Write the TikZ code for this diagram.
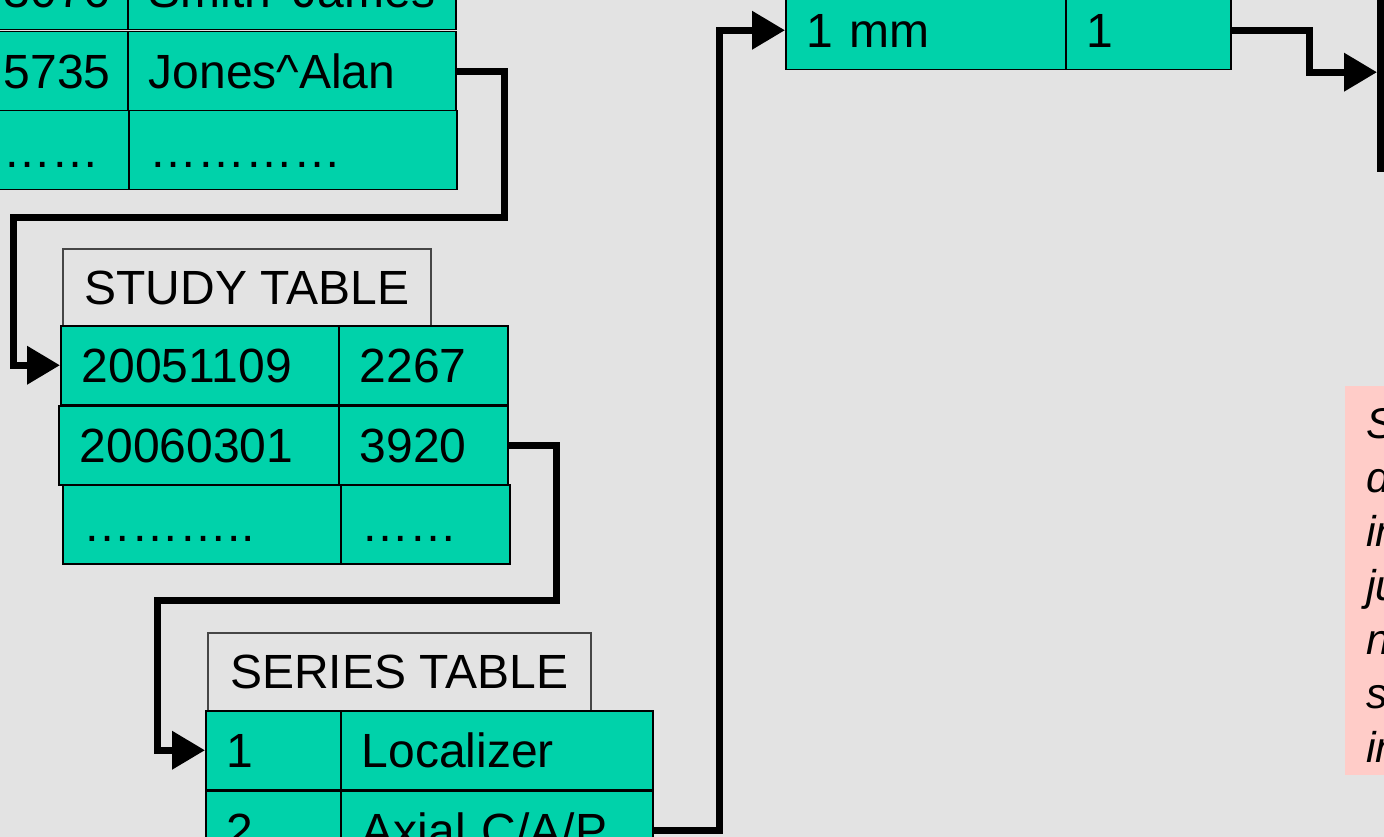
\documentclass[tikz,border=0pt]{standalone}
\usepackage{fontspec}
\setmainfont{Liberation Sans}
\usetikzlibrary{arrows.meta}
\definecolor{bgcol}{RGB}{227,227,227}
\definecolor{tealfill}{RGB}{0,210,170}
\definecolor{pinkfill}{RGB}{255,204,200}
\definecolor{titleborder}{RGB}{70,70,70}
\newcommand\cellfont{\fontsize{48}{58}\selectfont}
\newcommand\notefont{\fontsize{43}{54}\selectfont\itshape}
\tikzset{
  cell/.style={draw=black, line width=1.5pt, fill=tealfill, anchor=north west,
    inner xsep=21pt, inner ysep=0pt, text height=34pt, text depth=0pt,
    align=left, font=\cellfont, minimum height=79pt},
  tabtitle/.style={draw=titleborder, line width=1.5pt, anchor=north west,
    inner sep=0pt, text height=34pt, text depth=0pt, font=\cellfont},
  conn/.style={line width=7pt, -{Triangle[length=33pt,width=37pt]}},
}
\begin{document}
\begin{tikzpicture}[x=1pt,y=-1pt]
\useasboundingbox (0,0) rectangle (1384,837);
\clip (0,0) rectangle (1384,837);
\fill[bgcol] (0,0) rectangle (1384,837);

% patient table
\node[cell, text width=103pt] (P11) at (-18,-50) {3076};
\node[cell, text width=286pt] (P12) at (127,-50) {Smith\textasciicircum James};
\node[cell, text width=103pt] (P21) at (-18,31) {5735};
\node[cell, text width=286pt] (P22) at (127,31) {Jones\textasciicircum Alan};
\node[cell, text width=104pt] (P31) at (-18,110) {……};
\node[cell, text width=286pt] (P32) at (128,110) {…………};

% study table
\node[tabtitle, minimum width=368pt, minimum height=77pt] (STT) at (62,248) {STUDY TABLE};
\node[cell, text width=236pt] (S11) at (60,325) {20051109};
\node[cell, text width=127pt] (S12) at (338,325) {2267};
\node[cell, text width=238pt] (S21) at (58,405) {20060301};
\node[cell, text width=127pt] (S22) at (338,405) {3920};
\node[cell, text width=236pt] (S31) at (62,484) {………..};
\node[cell, text width=127pt] (S32) at (340,484) {……};

% series table
\node[tabtitle, minimum width=383pt, minimum height=78pt] (SRT) at (207,632) {SERIES TABLE};
\node[cell, text width=93pt] (R11) at (205,710) {1};
\node[cell, text width=270pt] (R12) at (340,710) {Localizer};
\node[cell, text width=93pt] (R21) at (205,790) {2};
\node[cell, text width=270pt] (R22) at (340,790) {Axial C/A/P};

% top middle table
\node[cell, text width=238pt] (M11) at (785,-10) {1 mm};
\node[cell, text width=123pt] (M12) at (1065,-10) {1};

% image at right edge
\node[fill=black, anchor=north west, inner sep=0pt, minimum width=60pt, minimum height=200pt] (img) at (1377,-28) {};

% note
\node[fill=pinkfill, anchor=north west, inner sep=0pt, minimum width=80pt, minimum height=389pt] (note) at (1345,386) {};
\node[anchor=base west, inner sep=0pt, text width=200pt, align=left, font=\notefont] (notetext) at (1366,438)
  {S\\d\\in\\ju\\n\\s\\in};

% connectors
\draw[conn] (P22.east) -- ++(48,0) |- (13,218) |- (S11.west);
\draw[conn] (S22.east) -- ++(48,0) |- (157,600) |- (R11.west);
\draw[conn] (R22.east) -- ++(66,0) |- (M11.west);
\draw[conn] (M12.east) -- ++(78,0) |- (img.west);
\end{tikzpicture}
\end{document}
